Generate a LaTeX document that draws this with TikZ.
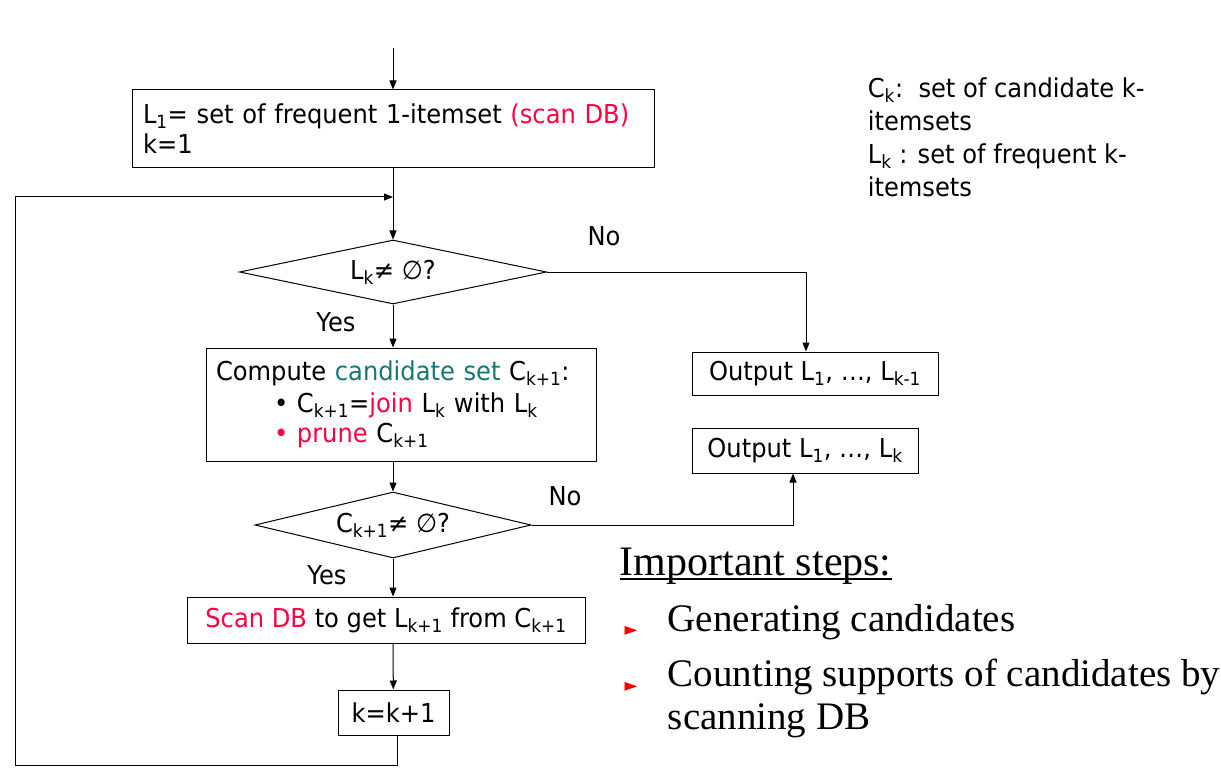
\documentclass[tikz,border=0pt]{standalone}
\usepackage{fontspec}
\setmainfont{DejaVu Sans}[FakeStretch=0.93]
\newfontfamily\timesfont{Liberation Serif}
\usepackage{xcolor}
\usetikzlibrary{shapes.geometric,arrows.meta}
\definecolor{dbred}{RGB}{255,0,64}
\definecolor{candteal}{RGB}{20,120,120}
\newcommand{\lo}[1]{\textsubscript{#1}}
\newcommand{\thickul}[1]{\setbox0\hbox{#1}\rlap{\rule[-5pt]{\wd0}{2.4pt}}#1}

\begin{document}
\begin{tikzpicture}[x=1pt,y=-1pt,
    font=\fontsize{26}{30}\selectfont,
    line width=1pt, >={Triangle[length=9pt,width=7pt]},
    box/.style={draw, inner sep=0pt},
    test/.style={draw, diamond, inner sep=0pt, aspect=4.5},
    big/.style={font=\timesfont\fontsize{39}{43}\selectfont}]
  \useasboundingbox[fill=white] (0,0) rectangle (1221,770);

  \node[box, minimum width=522, minimum height=78, text width=500, align=left] (init) at (393,129)
    {L\lo{1}= set of frequent 1-itemset \textcolor{dbred}{(scan DB)}\\k=1};
  \node[test, minimum width=307, minimum height=64] (d1) at (393,272) {L\lo{k}≠ ∅?};
  \node[box, minimum width=390, minimum height=113, text width=370, align=left] (cand) at (401,404.5)
    {Compute \textcolor{candteal}{candidate set} C\lo{k+1}:\\[2pt]
     \hspace*{58pt}• C\lo{k+1}=\textcolor{dbred}{join} L\lo{k} with L\lo{k}\\
     \hspace*{58pt}\textcolor{dbred}{• prune} C\lo{k+1}};
  \node[test, minimum width=276, minimum height=66] (d2) at (393,525) {C\lo{k+1}≠ ∅?};
  \node[box, minimum width=398, minimum height=46] (scan) at (386,620)
    {\textcolor{dbred}{Scan DB} to get L\lo{k+1} from C\lo{k+1}};
  \node[box, minimum width=111, minimum height=45] (inc) at (393.5,712.5) {k=k+1};
  \node[box, minimum width=246, minimum height=43] (out1) at (815,373.5) {Output L\lo{1}, …, L\lo{k-1}};
  \node[box, minimum width=226, minimum height=45] (out2) at (805,450.5) {Output L\lo{1}, …, L\lo{k}};

  \node (no1) at (604,236) {No};
  \node (yes1) at (336,322) {Yes};
  \node (no2) at (565,496) {No};
  \node (yes2) at (327,575) {Yes};

  \node[anchor=north west, align=left, font=\fontsize{26}{33}\selectfont] (legend) at (864,74)
    {C\lo{k}:\ \ set of candidate k-\\itemsets\\L\lo{k} : set of frequent k-\\itemsets};

  \node[big, anchor=west, font=\timesfont\fontsize{42}{46}\selectfont] (steps) at (616,566) {\thickul{Important steps:}};
  \node[text=red, font=\fontsize{18}{18}\selectfont] (b1) at (631,631) {►};
  \node[big, anchor=west] (gen) at (664,622) {Generating candidates};
  \node[text=red, font=\fontsize{18}{18}\selectfont] (b2) at (631,687) {►};
  \node[big, anchor=north west, align=left] (count) at (664,655)
    {Counting supports of candidates by\\scanning DB};

  \coordinate (top) at (393,48);
  \coordinate (join) at (393,197);
  \coordinate (corner) at (15,765);

  \draw[->] (top) -- (init);
  \draw[->] (init) -- (d1);
  \draw[->] (d1.east) -| ([xshift=-9pt]out1.north);
  \draw[->] (d1.south) -- (d1.south |- cand.north);
  \draw[->] (d1.south |- cand.south) -- (d2.north);
  \draw[->] (d2.east) -| ([xshift=-12pt]out2.south);
  \draw[->] (d2.south) -- (d2.south |- scan.north);
  \draw[->] (d2.south |- scan.south) -- (inc);
  \draw[->] ([xshift=4pt]inc.south) -- ([xshift=4pt]inc.south |- corner) -- (corner) |- (join);
\end{tikzpicture}
\end{document}
